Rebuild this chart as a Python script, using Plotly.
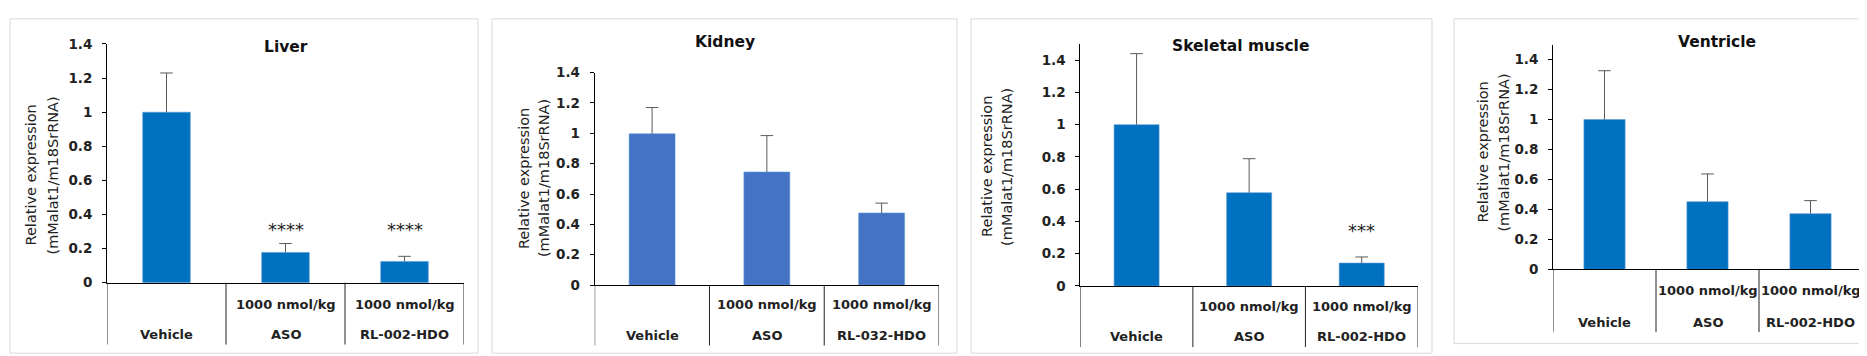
import plotly.graph_objects as go

# ---------------- data ----------------
groups_liver = ["Vehicle", "ASO", "RL-002-HDO"]
groups_kidney = ["Vehicle", "ASO", "RL-032-HDO"]
groups_muscle = ["Vehicle", "ASO", "RL-002-HDO"]
groups_ventricle = ["Vehicle", "ASO", "RL-002-HDO"]
dose_labels = ["", "1000 nmol/kg", "1000 nmol/kg"]

liver_mean = [1.0, 0.178, 0.125]
liver_err = [0.23, 0.052, 0.03]
kidney_mean = [0.997, 0.745, 0.475]
kidney_err = [0.173, 0.24, 0.065]
muscle_mean = [1.0, 0.578, 0.142]
muscle_err = [0.44, 0.211, 0.038]
ventricle_mean = [1.0, 0.452, 0.372]
ventricle_err = [0.326, 0.185, 0.087]

liver_sig = ["", "****", "****"]
kidney_sig = ["", "", ""]
muscle_sig = ["", "", "***"]
ventricle_sig = ["", "", ""]

titles = ["Liver", "Kidney", "Skeletal muscle", "Ventricle"]
ytitle_1 = "Relative expression"
ytitle_2 = "(mMalat1/m18SrRNA)"
y_ticks = [0, 0.2, 0.4, 0.6, 0.8, 1, 1.2, 1.4]

# ---------------- layout (pixels) ----------------
W, H = 1867, 356
FONT = "DejaVu Sans"
TXT = "#222222"
ERR = "#595959"

panels = [
    dict(groups=groups_liver, mean=liver_mean, err=liver_err, sig=liver_sig, sig_y=0.31,
         color="#0070C0", px0=99, px1=456, ptop=29.3, pbot=279.3, ymax=1.4,
         row1=302, row2=333, divbot=344, tpos=(278, 32), ytx=(23, 45), yty=167,
         box=(2, 3, 470, 353)),
    dict(groups=groups_kidney, mean=kidney_mean, err=kidney_err, sig=kidney_sig, sig_y=0.3,
         color="#4472C4", px0=586.7, px1=931, ptop=59.3, pbot=281.7, ymax=1.4,
         row1=302.3, row2=335, divbot=345, tpos=(716.7, 27), ytx=(516.7, 536.7), yty=170,
         box=(484, 3, 949, 353)),
    dict(groups=groups_muscle, mean=muscle_mean, err=muscle_err, sig=muscle_sig, sig_y=0.347,
         color="#0070C0", px0=1072.3, px1=1410, ptop=29.3, pbot=282.7, ymax=1.5,
         row1=304.3, row2=336, divbot=346.7, tpos=(1232.7, 31.7), ytx=(979, 999), yty=158,
         box=(963, 3, 1424, 353)),
    dict(groups=groups_ventricle, mean=ventricle_mean, err=ventricle_err, sig=ventricle_sig, sig_y=0.3,
         color="#0070C0", px0=1545, px1=1854, ptop=30, pbot=265.3, ymax=1.5,
         row1=287.3, row2=320.7, divbot=331, tpos=(1709.3, 27.3), ytx=(1475, 1496), yty=143,
         box=(1446, 3, 1865, 343)),
]


def px(x):
    return x / W


def py(y):
    return 1 - y / H


def b(s):
    return f"<b>{s}</b>"


fig = go.Figure()
shapes = []
annotations = []

for i, p in enumerate(panels):
    n = "" if i == 0 else str(i + 1)
    xa, ya = "x" + n, "y" + n
    fig.add_trace(go.Bar(
        x=p["groups"], y=p["mean"], xaxis=xa, yaxis=ya,
        marker=dict(color=p["color"], line=dict(color="#5B9BD5", width=0.6)),
        showlegend=False, hoverinfo="skip",
    ))
    # upper-only error bars: stem from bar top to mean+err, cap at the top
    ex, ey = [], []
    for g, m, e in zip(p["groups"], p["mean"], p["err"]):
        ex += [g, g, None]
        ey += [m, m + e, None]
    fig.add_trace(go.Scatter(
        x=ex, y=ey, xaxis=xa, yaxis=ya, mode="lines",
        line=dict(color=ERR, width=1), showlegend=False, hoverinfo="skip",
    ))
    fig.add_trace(go.Scatter(
        x=p["groups"], y=[m + e for m, e in zip(p["mean"], p["err"])],
        xaxis=xa, yaxis=ya, mode="markers",
        marker=dict(symbol="line-ew-open", size=9, color=ERR, line=dict(color=ERR, width=1)),
        showlegend=False, hoverinfo="skip",
    ))
    axis_key = "xaxis" + n
    yaxis_key = "yaxis" + n
    fig.update_layout(**{
        axis_key: dict(domain=[px(p["px0"]), px(p["px1"])], anchor=ya,
                       type="category", range=[-0.5, 2.5], showticklabels=False,
                       ticks="", showline=True, linecolor="black", linewidth=1,
                       showgrid=False, zeroline=False, fixedrange=True),
        yaxis_key: dict(domain=[py(p["pbot"]), py(p["ptop"])], anchor=xa,
                        range=[0, p["ymax"]], tickvals=y_ticks,
                        ticktext=[b(f"{v:g}") for v in y_ticks],
                        ticks="outside", ticklen=4, tickcolor="black",
                        ticklabelstandoff=7,
                        showline=True, linecolor="black", linewidth=1,
                        showgrid=False, zeroline=False,
                        tickfont=dict(family=FONT, size=13.5, color=TXT)),
    })
    # panel border
    bx = p["box"]
    shapes.append(dict(type="rect", xref="paper", yref="paper",
                       x0=px(bx[0]), x1=px(bx[2]), y0=py(bx[3]), y1=py(bx[1]),
                       line=dict(color="#D9D9D9", width=1)))
    # category dividers (incl. the axis line extended below)
    for k in range(len(p["groups"]) + 1):
        shapes.append(dict(type="line", xref=xa, yref="paper",
                           x0=k - 0.5, x1=k - 0.5, y0=py(p["pbot"]), y1=py(p["divbot"]),
                           line=dict(color="#222222", width=1)))
    # category labels
    for g, d, s in zip(p["groups"], dose_labels, p["sig"]):
        annotations.append(dict(x=g, xref=xa, y=py(p["row2"]), yref="paper",
                                text=b(g), showarrow=False, yanchor="middle",
                                font=dict(family=FONT, size=13, color=TXT)))
        if d:
            annotations.append(dict(x=g, xref=xa, y=py(p["row1"]), yref="paper",
                                    text=b(d), showarrow=False, yanchor="middle",
                                    font=dict(family=FONT, size=13, color=TXT)))
        if s:
            annotations.append(dict(x=g, xref=xa, y=p["sig_y"], yref=ya,
                                    text=s, showarrow=False, yanchor="middle",
                                    font=dict(family=FONT, size=18, color=TXT)))
    # title
    annotations.append(dict(x=px(p["tpos"][0]), y=py(p["tpos"][1]), xref="paper", yref="paper",
                            text=b(titles[i]), showarrow=False, xanchor="center", yanchor="middle",
                            font=dict(family=FONT, size=15.5, color="#111111")))
    # y-axis title (two lines)
    for tx, txt in zip(p["ytx"], [ytitle_1, ytitle_2]):
        annotations.append(dict(x=px(tx), y=py(p["yty"]), xref="paper", yref="paper",
                                text=txt, showarrow=False, textangle=-90,
                                xanchor="center", yanchor="middle",
                                font=dict(family=FONT, size=14.5, color=TXT)))

fig.update_layout(
    width=W, height=H,
    margin=dict(l=0, r=0, t=0, b=0),
    paper_bgcolor="white", plot_bgcolor="white",
    bargap=0.6,
    shapes=shapes, annotations=annotations,
    font=dict(family=FONT),
)

fig.write_html("out.html", config={"displayModeBar": False})
